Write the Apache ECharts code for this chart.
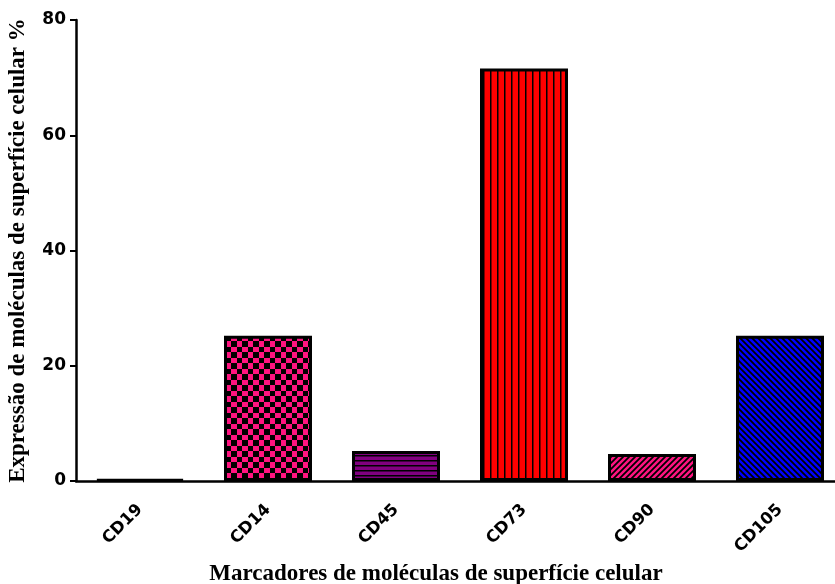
<!DOCTYPE html>
<html>
<head>
<meta charset="utf-8">
<script src="https://cdn.jsdelivr.net/npm/echarts@6/dist/echarts.min.js"></script>
<style>
html,body{margin:0;padding:0;background:#fff;}
#chart{width:835px;height:584px;}
</style>
</head>
<body>
<div id="chart"></div>
<script>
const categories = ['CD19', 'CD14', 'CD45', 'CD73', 'CD90', 'CD105'];
const values = [0.3, 25.2, 5.2, 71.6, 4.7, 25.2];
const yTicks = [0, 20, 40, 60, 80];
const xTitle = 'Marcadores de moléculas de superfície celular';
const yTitle = 'Expressão de moléculas de superfície celular %';

function makeCanvas(w, h, draw) {
  const c = document.createElement('canvas');
  c.width = w; c.height = h;
  const ctx = c.getContext('2d');
  draw(ctx, w, h);
  return c;
}
const PINK = '#FF1480', PURPLE = '#80007F', RED = '#FF0000', BLUE = '#0000FF';
const checker = makeCanvas(11, 11, (ctx) => {
  ctx.fillStyle = PINK; ctx.fillRect(0, 0, 11, 11);
  ctx.fillStyle = '#000'; ctx.fillRect(0, 0, 6, 6); ctx.fillRect(6, 6, 5, 5);
});
const hLines = makeCanvas(5, 5, (ctx) => {
  ctx.fillStyle = PURPLE; ctx.fillRect(0, 0, 5, 5);
  ctx.fillStyle = '#000'; ctx.fillRect(0, 0, 5, 1.5);
});
const vLines = makeCanvas(7, 7, (ctx) => {
  ctx.fillStyle = RED; ctx.fillRect(0, 0, 7, 7);
  ctx.fillStyle = '#000'; ctx.fillRect(0, 0, 1.5, 7);
});
function diag(color, dir) {
  return makeCanvas(6, 6, (ctx) => {
    ctx.fillStyle = color; ctx.fillRect(0, 0, 6, 6);
    ctx.strokeStyle = '#000'; ctx.lineWidth = 1.8;
    ctx.beginPath();
    if (dir > 0) {
      ctx.moveTo(-1, 7); ctx.lineTo(7, -1);
      ctx.moveTo(-4, 4); ctx.lineTo(4, -4);
      ctx.moveTo(2, 10); ctx.lineTo(10, 2);
    } else {
      ctx.moveTo(-1, -1); ctx.lineTo(7, 7);
      ctx.moveTo(-4, 2); ctx.lineTo(4, 10);
      ctx.moveTo(2, -4); ctx.lineTo(10, 4);
    }
    ctx.stroke();
  });
}
const fills = [
  '#000000',
  { image: checker, repeat: 'repeat' },
  { image: hLines, repeat: 'repeat' },
  { image: vLines, repeat: 'repeat' },
  { image: diag(PINK, 1), repeat: 'repeat' },
  { image: diag(BLUE, -1), repeat: 'repeat' }
];

const chart = echarts.init(document.getElementById('chart'), null, { renderer: 'canvas' });
chart.setOption({
  animation: false,
  backgroundColor: '#fff',
  title: {
    text: xTitle,
    left: 431, top: 558, textAlign: 'center',
    textStyle: { fontFamily: 'Liberation Serif', fontWeight: 'bold', fontSize: 23, color: '#000' }
  },
  grid: { left: 76, top: 20, height: 461, width: 768, containLabel: false, outerBoundsMode: 'none' },
  xAxis: {
    type: 'category',
    data: categories,
    axisLine: { lineStyle: { color: '#000', width: 2.5 } },
    axisTick: { alignWithLabel: true, length: 8, lineStyle: { color: '#000', width: 2 } },
    axisLabel: {
      rotate: 45, margin: 26, color: '#000',
      fontFamily: 'DejaVu Sans', fontWeight: 'bold', fontSize: 16.5
    }
  },
  yAxis: {
    type: 'value',
    min: yTicks[0], max: yTicks[yTicks.length - 1], interval: 20,
    name: yTitle,
    nameLocation: 'middle', nameGap: 46,
    nameTextStyle: { fontFamily: 'Liberation Serif', fontWeight: 'bold', fontSize: 23, color: '#000' },
    axisLine: { show: true, lineStyle: { color: '#000', width: 2.5 } },
    axisTick: { show: true, length: 6, lineStyle: { color: '#000', width: 2 } },
    splitLine: { show: false },
    axisLabel: {
      margin: 10, color: '#000',
      fontFamily: 'DejaVu Sans', fontWeight: 'bold', fontSize: 17
    }
  },
  series: [{
    type: 'bar',
    barWidth: 88,
    data: values.map((v, i) => ({
      value: v,
      itemStyle: { color: fills[i], borderColor: '#000', borderWidth: 3 }
    }))
  }]
});
</script>
</body>
</html>
